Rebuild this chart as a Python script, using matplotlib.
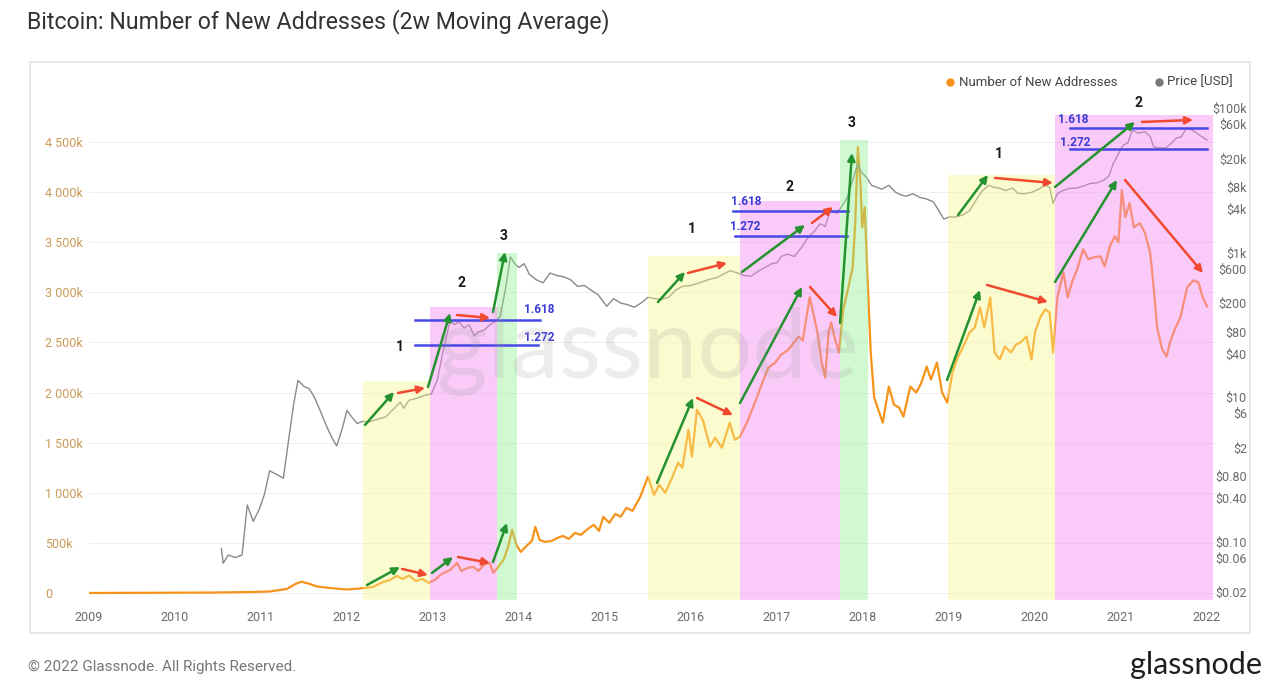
import matplotlib
matplotlib.use('Agg')
import matplotlib.pyplot as plt
from matplotlib.patches import Rectangle
from matplotlib.lines import Line2D

plt.rcParams['font.family'] = ['Roboto', 'DejaVu Sans']

# --- data (2w MA of new addresses, in thousands) ---
addr_years = [2009.0, 2009.5, 2010.0, 2010.5, 2010.9, 2011.1, 2011.3, 2011.4, 2011.47, 2011.55,
              2011.65, 2011.8, 2012.0, 2012.15, 2012.3, 2012.42, 2012.5, 2012.58, 2012.65, 2012.72,
              2012.8, 2012.88, 2012.95, 2013.02, 2013.1, 2013.2, 2013.28, 2013.33, 2013.4, 2013.47,
              2013.53, 2013.6, 2013.66, 2013.7, 2013.75, 2013.82, 2013.87, 2013.92, 2013.97, 2014.02,
              2014.1, 2014.15, 2014.19, 2014.24, 2014.3, 2014.38, 2014.45, 2014.51, 2014.58, 2014.65,
              2014.72, 2014.8, 2014.87, 2014.93, 2014.98, 2015.05, 2015.12, 2015.18, 2015.25, 2015.32,
              2015.41, 2015.5, 2015.57, 2015.63, 2015.7, 2015.78, 2015.85, 2015.9, 2015.97, 2016.01,
              2016.07, 2016.14, 2016.22, 2016.28, 2016.36, 2016.45, 2016.51, 2016.57, 2016.65, 2016.77,
              2016.83, 2016.9, 2016.98, 2017.05, 2017.12, 2017.18, 2017.25, 2017.3, 2017.38, 2017.42,
              2017.47, 2017.52, 2017.56, 2017.6, 2017.63, 2017.67, 2017.72, 2017.77, 2017.83, 2017.88,
              2017.91, 2017.94, 2017.97, 2017.99, 2018.02, 2018.05, 2018.09, 2018.13, 2018.17, 2018.23,
              2018.3, 2018.36, 2018.42, 2018.47, 2018.55, 2018.62, 2018.68, 2018.74, 2018.79, 2018.86,
              2018.92, 2018.98, 2019.04, 2019.1, 2019.16, 2019.24, 2019.3, 2019.36, 2019.41, 2019.48,
              2019.53, 2019.59, 2019.65, 2019.72, 2019.78, 2019.83, 2019.9, 2019.96, 2020.0, 2020.06,
              2020.12, 2020.17, 2020.21, 2020.26, 2020.33, 2020.38, 2020.43, 2020.49, 2020.56, 2020.62,
              2020.68, 2020.76, 2020.81, 2020.87, 2020.93, 2020.97, 2021.01, 2021.05, 2021.1, 2021.15,
              2021.22, 2021.28, 2021.34, 2021.38, 2021.42, 2021.48, 2021.53, 2021.57, 2021.62, 2021.69,
              2021.77, 2021.84, 2021.9, 2021.95, 2022.0]
addr_k = [0, 1, 3, 5, 10, 15, 40, 90, 113, 95,
          65, 50, 35, 45, 60, 110, 130, 170, 140, 175,
          120, 140, 100, 130, 190, 230, 300, 220, 250, 260,
          220, 290, 300, 200, 250, 330, 450, 630, 480, 410,
          480, 520, 660, 530, 510, 520, 550, 570, 540, 600,
          580, 640, 680, 620, 760, 700, 790, 760, 850, 820,
          960, 1160, 980, 1080, 1000, 1150, 1300, 1250, 1630, 1360,
          1830, 1720, 1460, 1550, 1450, 1700, 1530, 1560, 1700, 1960,
          2100, 2250, 2300, 2380, 2420, 2480, 2560, 2520, 2950, 2800,
          2600, 2300, 2150, 2600, 2700, 2550, 2400, 2830, 3050, 3250,
          3700, 4450, 4100, 3650, 3850, 3200, 2400, 1950, 1850, 1700,
          2060, 1880, 1850, 1760, 2060, 2000, 2100, 2260, 2130, 2300,
          2000, 1900, 2200, 2350, 2450, 2600, 2650, 2850, 2650, 2950,
          2400, 2330, 2460, 2400, 2480, 2500, 2560, 2330, 2600, 2750,
          2830, 2800, 2400, 2950, 3200, 2950, 3100, 3230, 3430, 3330,
          3350, 3360, 3260, 3460, 3560, 3500, 4020, 3750, 3890, 3650,
          3690, 3590, 3390, 3050, 2650, 2430, 2360, 2500, 2620, 2750,
          3050, 3120, 3100, 2950, 2860]

price_years = [2010.54, 2010.56, 2010.62, 2010.7, 2010.78, 2010.84, 2010.91, 2010.98, 2011.04, 2011.1,
               2011.18, 2011.26, 2011.32, 2011.38, 2011.43, 2011.5, 2011.56, 2011.62, 2011.7, 2011.76,
               2011.82, 2011.88, 2011.94, 2012.0, 2012.06, 2012.12, 2012.18, 2012.25, 2012.35, 2012.45,
               2012.55, 2012.62, 2012.66, 2012.72, 2012.8, 2012.9, 2012.98, 2013.05, 2013.12, 2013.2,
               2013.25, 2013.3, 2013.36, 2013.42, 2013.48, 2013.53, 2013.6, 2013.66, 2013.72, 2013.78,
               2013.84, 2013.9, 2013.95, 2014.0, 2014.06, 2014.12, 2014.2, 2014.28, 2014.36, 2014.44,
               2014.52, 2014.6, 2014.68, 2014.76, 2014.84, 2014.92, 2015.02, 2015.1, 2015.18, 2015.26,
               2015.34, 2015.42, 2015.5, 2015.58, 2015.66, 2015.74, 2015.82, 2015.9, 2016.0, 2016.1,
               2016.2, 2016.3, 2016.4, 2016.46, 2016.54, 2016.62, 2016.7, 2016.78, 2016.86, 2016.94,
               2017.0, 2017.05, 2017.12, 2017.2, 2017.28, 2017.36, 2017.44, 2017.5, 2017.56, 2017.62,
               2017.7, 2017.76, 2017.82, 2017.88, 2017.94, 2017.98, 2018.04, 2018.1, 2018.16, 2018.22,
               2018.3, 2018.38, 2018.44, 2018.5, 2018.58, 2018.66, 2018.74, 2018.82, 2018.88, 2018.94,
               2019.0, 2019.08, 2019.16, 2019.24, 2019.3, 2019.38, 2019.46, 2019.52, 2019.58, 2019.66,
               2019.74, 2019.8, 2019.88, 2019.96, 2020.04, 2020.12, 2020.17, 2020.21, 2020.26, 2020.32,
               2020.4, 2020.48, 2020.56, 2020.64, 2020.72, 2020.8, 2020.86, 2020.91, 2020.96, 2021.02,
               2021.08, 2021.13, 2021.2, 2021.28, 2021.34, 2021.38, 2021.45, 2021.52, 2021.58, 2021.64,
               2021.7, 2021.76, 2021.82, 2021.88, 2021.94, 2022.0]
price_usd = [0.08, 0.05, 0.065, 0.06, 0.065, 0.32, 0.19, 0.28, 0.45, 0.95,
             0.85, 0.75, 2.5, 8, 17, 14, 13, 10, 6, 4,
             2.8, 2.1, 3.5, 6.5, 5.2, 4.3, 4.6, 4.5, 4.9, 5.3,
             7, 8.5, 7, 9, 9.5, 10.5, 11, 17, 45, 115,
             100, 110, 90, 100, 70, 80, 85, 100, 110, 130,
             300, 870, 700, 620, 700, 500, 420, 380, 520, 480,
             460, 420, 340, 350, 300, 260, 180, 230, 200, 190,
             175, 200, 240, 230, 225, 240, 300, 340, 350, 380,
             420, 450, 520, 560, 520, 480, 470, 550, 620, 700,
             720, 880, 950, 880, 1150, 1600, 2000, 2500, 2300, 3800,
             3500, 4500, 5800, 10000, 17000, 13000, 11000, 8500, 8000, 7500,
             8500, 6800, 6300, 6000, 6500, 5800, 5500, 5000, 3800, 2900,
             3100, 3100, 3300, 3800, 5000, 7000, 8500, 8000, 7800, 7200,
             7800, 6600, 6500, 6800, 7500, 8500, 8000, 4800, 6500, 7200,
             7700, 7800, 8300, 9000, 9200, 10000, 11500, 17000, 22000, 30000,
             33000, 49000, 45000, 47000, 40000, 29000, 28000, 28000, 32000, 38000,
             40000, 52000, 50000, 45000, 40000, 36000]

year_ticks = list(range(2009, 2023))
addr_ticks = [0, 500, 1000, 1500, 2000, 2500, 3000, 3500, 4000, 4500]
price_ticks = [0.02, 0.06, 0.10, 0.40, 0.80, 2, 6, 10, 40, 80, 200, 600, 1000, 4000, 8000,
               20000, 60000, 100000]
price_labels = ['$0.02', '$0.06', '$0.10', '$0.40', '$0.80', '$2', '$6', '$10', '$40', '$80',
                '$200', '$600', '$1k', '$4k', '$8k', '$20k', '$60k', '$100k']

# cycle phases: start, end, top of band (k addresses), colour key
phases = [(2012.19, 2012.965, 2116, 'y'), (2012.965, 2013.744, 2854, 'p'), (2013.744, 2013.977, 3393, 'g'),
          (2015.50, 2016.570, 3363, 'y'), (2016.570, 2017.733, 3912, 'p'), (2017.733, 2018.058, 4521, 'g'),
          (2018.988, 2020.233, 4172, 'y'), (2020.233, 2022.070, 4770, 'p')]
phase_colors = {'y': '#f7f78a', 'p': '#f58af0', 'g': '#8ef08e'}

# hand-drawn arrows: x0, y0, x1, y1 (year, k), colour key
arrows = [(2012.209, 1677, 2012.547, 2006, 'g'), (2012.593, 1996, 2012.907, 2046, 'r'),
          (2012.942, 2056, 2013.198, 2794, 'g'), (2013.279, 2774, 2013.663, 2745, 'r'),
          (2013.698, 2804, 2013.837, 3403, 'g'),
          (2012.233, 80, 2012.616, 259, 'g'), (2012.640, 240, 2012.942, 180, 'r'),
          (2012.988, 200, 2013.233, 359, 'g'), (2013.291, 359, 2013.663, 299, 'r'),
          (2013.698, 309, 2013.860, 699, 'g'),
          (2015.616, 2904, 2015.930, 3204, 'g'), (2015.965, 3194, 2016.419, 3293, 'r'),
          (2016.593, 3204, 2017.326, 3673, 'g'), (2017.407, 3693, 2017.651, 3852, 'r'),
          (2017.733, 2695, 2017.872, 4391, 'g'),
          (2015.605, 1098, 2016.023, 1946, 'g'), (2016.070, 1946, 2016.488, 1776, 'r'),
          (2016.570, 1896, 2017.291, 3054, 'g'), (2017.384, 3054, 2017.698, 2754, 'r'),
          (2019.105, 3772, 2019.453, 4172, 'g'), (2019.535, 4142, 2020.209, 4092, 'r'),
          (2018.977, 2126, 2019.360, 3024, 'g'), (2019.442, 3074, 2020.151, 2904, 'r'),
          (2020.233, 4052, 2021.163, 4701, 'g'), (2021.244, 4701, 2021.837, 4721, 'r'),
          (2020.233, 3104, 2020.953, 4122, 'g'), (2021.047, 4122, 2021.953, 3194, 'r')]
arrow_colors = {'g': '#23922f', 'r': '#f0492f'}

# fibonacci extension levels on price: x0, x1, price, label, label x, label price, alignment
fib_levels = [(2012.79, 2014.24, 116, '1.618', 2014.41, 165, 'right'),
              (2012.79, 2014.22, 52.5, '1.272', 2014.41, 67.6, 'right'),
              (2016.49, 2017.83, 3750, '1.618', 2016.46, 5160, 'left'),
              (2016.51, 2017.81, 1690, '1.272', 2016.45, 2255, 'left'),
              (2020.41, 2022.0, 52800, '1.618', 2020.27, 68200, 'left'),
              (2020.41, 2022.0, 27100, '1.272', 2020.29, 32800, 'left')]

# wave numbers: year, k, text
wave_marks = [(2012.616, 2455, '1'), (2013.326, 3094, '2'), (2013.826, 3563, '3'),
              (2016.012, 3633, '1'), (2017.140, 4052, '2'), (2017.872, 4691, '3'),
              (2019.581, 4381, '1'), (2021.198, 4890, '2')]

W, H = 1280, 690
fig = plt.figure(figsize=(12.8, 6.9), dpi=100)
fig.patch.set_facecolor('white')

# white card behind the chart
card = Rectangle((30 / W, 1 - 633 / H), 1220 / W, 571 / H, transform=fig.transFigure,
                 facecolor='white', edgecolor='#e4e4e4', lw=1.2, zorder=-10)
fig.patches.append(card)

rect = [89 / W, 1 - 600 / H, 1126.6 / W, 500 / H]
ax = fig.add_axes(rect)
ax.patch.set_alpha(0)
ax.set_xlim(2009, 2022.1)
ax.set_ylim(-69.9, 4920)
ax.plot(addr_years, addr_k, color='#f7931a', lw=1.6, zorder=3)
ax.set_yticks(addr_ticks)
ax.set_yticklabels(['0' if v == 0 else f'{v:,}k'.replace(',', ' ') for v in addr_ticks])
ax.set_xticks(year_ticks)
ax.set_xticklabels([str(y) for y in year_ticks])
ax.tick_params(axis='y', length=0, pad=31.5, labelsize=9, labelcolor='#c99a58')
for lab in ax.get_yticklabels():
    lab.set_horizontalalignment('left')
ax.tick_params(axis='x', length=0, pad=8, labelsize=9, labelcolor='#6a6a6a')
ax.grid(axis='y', color='#efefef', lw=0.8)
ax.set_axisbelow(True)
for s in ax.spines.values():
    s.set_visible(False)

axp = ax.twinx()
axp.set_yscale('log')
axp.set_ylim(0.0155, 129000)
axp.plot(price_years, price_usd, color='#8a8a8a', lw=1.0, zorder=3)
axp.set_yticks(price_ticks)
axp.set_yticklabels(price_labels)
axp.minorticks_off()
axp.tick_params(axis='y', length=0, pad=22.5, labelsize=9, labelcolor='#6a6a6a')
for lab in axp.get_yticklabels():
    lab.set_horizontalalignment('right')
for s in axp.spines.values():
    s.set_visible(False)

# overlay for the hand-drawn annotations
ov = fig.add_axes(rect, sharex=ax)
ov.set_axis_off()
bottom = ax.get_ylim()[0]
for x0, x1, top, c in phases:
    ov.add_patch(Rectangle((x0, bottom), x1 - x0, top - bottom, facecolor=phase_colors[c],
                           alpha=0.45 if c == 'p' else 0.4, lw=0, zorder=1))

for x0, x1, p, lab, lx, ly, ha in fib_levels:
    ov.plot([x0, x1], [p, p], color='#4848e6', lw=1.8, transform=axp.transData, zorder=2)
    ov.text(lx, ly, lab, transform=axp.transData, ha=ha, va='center', fontsize=8.5,
            fontweight='bold', color='#3a3ad8', zorder=4)

for x0, y0, x1, y1, c in arrows:
    ov.annotate('', xy=(x1, y1), xytext=(x0, y0),
                arrowprops=dict(arrowstyle='-|>', color=arrow_colors[c], lw=1.8,
                                mutation_scale=11, shrinkA=0, shrinkB=0), zorder=3)

for x, y, t in wave_marks:
    ov.text(x, y, t, ha='center', va='center', fontsize=10, fontweight='bold', color='#1a1a1a', zorder=4)

ov.set_xlim(2009, 2022.1)
ov.set_ylim(ax.get_ylim())

# watermark
fig.text(648 / W, 1 - 352 / H, 'glassnode', ha='center', va='center', fontsize=70,
         family=['Lato', 'DejaVu Sans'], color='#9a9a9a', alpha=0.18, zorder=5)

# legend
fig.add_artist(Line2D([950 / W], [1 - 82 / H], marker='o', color='#f7931a', markersize=5,
                      transform=fig.transFigure))
fig.text(959 / W, 1 - 82 / H, 'Number of New Addresses', ha='left', va='center', fontsize=9.5, color='#444')
fig.add_artist(Line2D([1159 / W], [1 - 82 / H], marker='o', color='#777777', markersize=5,
                      transform=fig.transFigure))
fig.text(1167 / W, 1 - 82 / H, 'Price [USD]', ha='left', va='center', fontsize=9.5, color='#444')

fig.text(27 / W, 1 - 22 / H, 'Bitcoin: Number of New Addresses (2w Moving Average)', ha='left',
         va='center', fontsize=16.7, color='#333333')
fig.text(28 / W, 1 - 667 / H, '© 2022 Glassnode. All Rights Reserved.', ha='left', va='center',
         fontsize=11, color='#777777')
fig.text(1262 / W, 1 - 665 / H, 'glassnode', ha='right', va='center', fontsize=22,
         family=['Lato', 'DejaVu Sans'], color='#1e1e1e')

fig.savefig('out.png', dpi=100, facecolor='white')
